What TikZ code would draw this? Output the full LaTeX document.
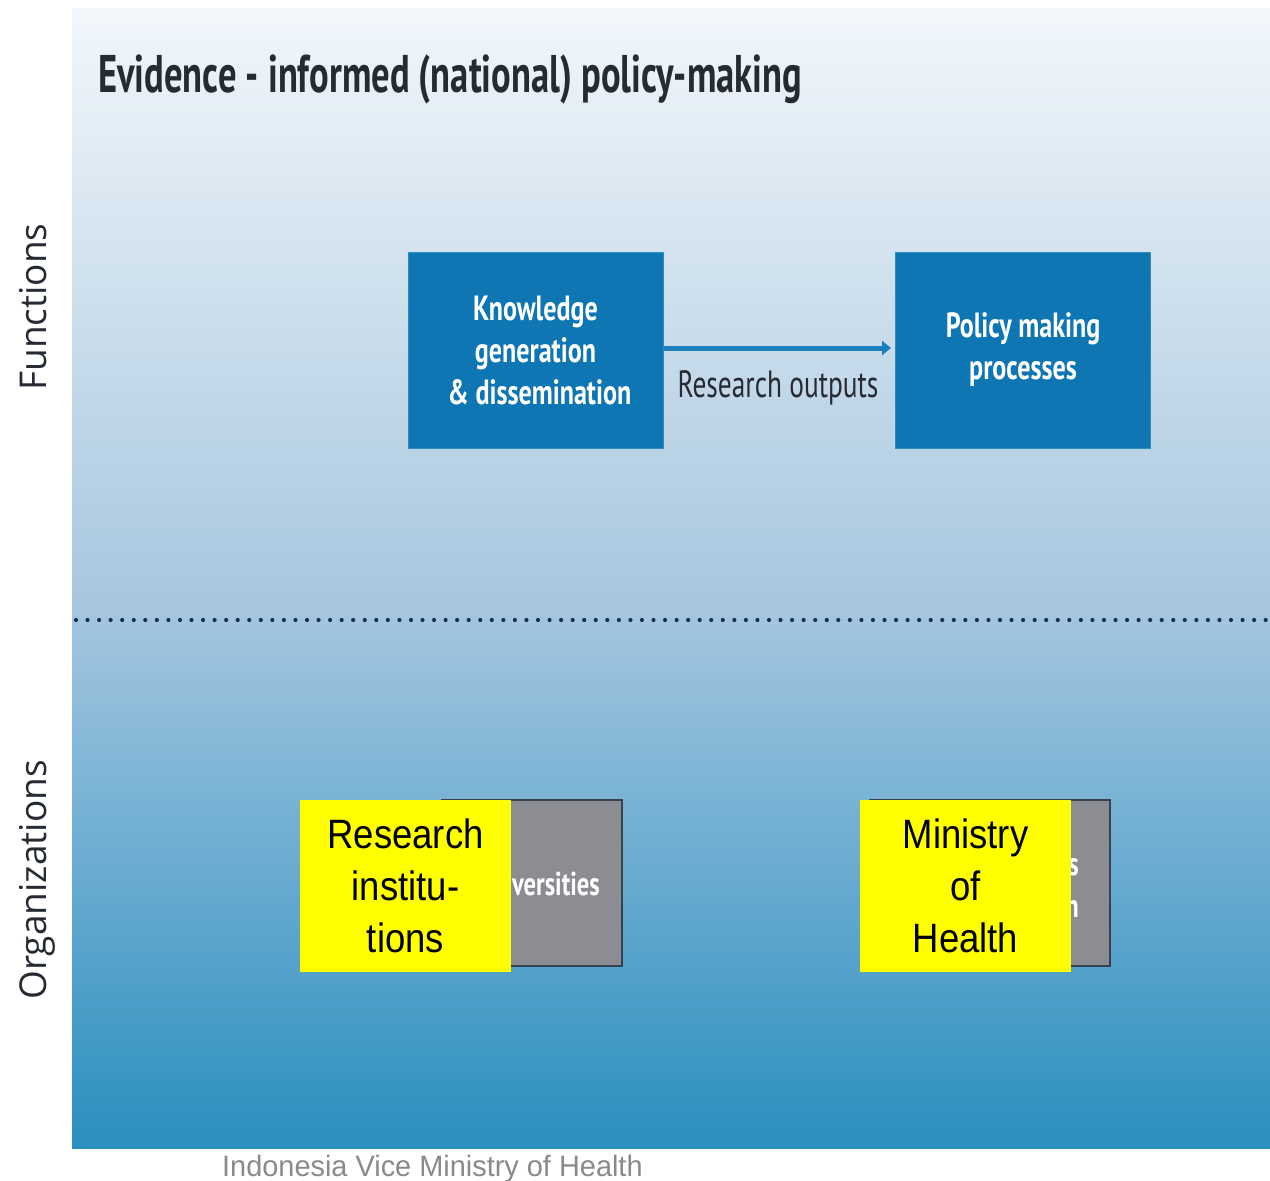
\documentclass[tikz,border=0pt]{standalone}
\usepackage{fontspec}
\usetikzlibrary{arrows.meta}
\newfontfamily\condf[FakeStretch=0.745]{PT Sans}
\newfontfamily\rof[FakeStretch=0.72]{PT Sans}
\newfontfamily\titlef[FakeStretch=0.69]{PT Sans}
\newfontfamily\sidef{Open Sans}
\newfontfamily\yelf[FakeStretch=0.89]{Liberation Sans}
\newfontfamily\credf[FakeStretch=0.98]{Liberation Sans}
\definecolor{bgtop}{HTML}{F2F7FB}
\definecolor{bgmid}{HTML}{A5C5DE}
\definecolor{bgmid2}{HTML}{A2C5DF}
\definecolor{bgbot}{HTML}{2A8FBF}
\definecolor{boxblue}{HTML}{0E76B3}
\definecolor{arrblue}{HTML}{1A7DBD}
\definecolor{dotc}{HTML}{1A3050}
\definecolor{grayfill}{HTML}{8B8D92}
\definecolor{grayedge}{HTML}{36434E}
\definecolor{credc}{HTML}{8A8A8A}
\definecolor{darktxt}{HTML}{262B33}
\definecolor{yel}{HTML}{FFFF00}
\tikzset{
  bluebox/.style={fill=boxblue, draw=boxblue!85!white, line width=1pt, minimum width=255pt, minimum height=196pt, text=white, align=center, inner sep=0pt, font=\condf\bfseries\fontsize{35}{42}\selectfont},
  graybox/.style={fill=grayfill, draw=grayedge, line width=2pt, inner sep=0pt},
  graytext/.style={text=white, align=right, inner sep=0pt, font=\condf\bfseries\fontsize{33}{42}\selectfont},
  yellowbox/.style={fill=yel, draw=none, minimum width=211pt, minimum height=172pt, inner sep=0pt, align=center, text=black, font=\yelf\fontsize{41}{52}\selectfont},
  sidelabel/.style={rotate=90, anchor=base, inner sep=0pt, text=darktxt, font=\sidef\fontsize{37}{44}\selectfont},
  flowarrow/.style={draw=arrblue, line width=5pt, -{Triangle[length=9pt,width=14pt]}, shorten >=4pt}
}
\begin{document}
\begin{tikzpicture}[x=1pt,y=-1pt]
\useasboundingbox (0,0) rectangle (1270,1181);
\fill[white] (0,0) rectangle (1270,1181);
% background panel
\shade[top color=bgtop, bottom color=bgmid] (72,8) rectangle (1270,620);
\shade[top color=bgmid2, bottom color=bgbot] (72,620) rectangle (1270,1148);
\draw[dotc, line width=4.2pt, line cap=round, dash pattern=on 0pt off 11.55pt] (76,620) -- (1270,620);
% title
\node[anchor=base west, inner sep=0pt, text=darktxt, font=\titlef\bfseries\fontsize{53}{60}\selectfont] (title) at (98,92) {Evidence - informed (national) policy-making};
% function boxes
\node[bluebox] (kg) at (535.5,350) {Knowledge\\generation\\\hspace*{8pt}\& dissemination};
\node[bluebox] (pm) at (1023,350) {Policy making\\processes};
\draw[flowarrow] (kg.east |- 0,348) -- (pm.west |- 0,348);
\node[anchor=base, inner sep=0pt, text=darktxt, font=\rof\fontsize{38}{44}\selectfont] (ro) at (778,397) {Research outputs};
% organisation boxes
\node[graybox, minimum width=180pt, minimum height=166pt] (uni) at (532,883) {};
\node[graytext, anchor=base east] (unitext) at (600,895) {Universities};
\node[graybox, minimum width=240pt, minimum height=166pt] (min) at (990,883) {};
\node[graytext, anchor=east] (mintext) at (1079,885) {Ministries\\of Health};
\node[yellowbox] (ri) at (405.5,886) {Research\\institu-\\tions};
\node[yellowbox] (moh) at (965.5,886) {Ministry\\of\\Health};
% side labels
\node[sidelabel] (fn) at (46,307) {Functions};
\node[sidelabel] (org) at (46,880) {Organizations};
% credit
\node[anchor=base west, inner sep=0pt, text=credc, font=\credf\fontsize{29.5}{34}\selectfont] (cred) at (222,1176) {Indonesia Vice Ministry of Health};
\end{tikzpicture}
\end{document}
